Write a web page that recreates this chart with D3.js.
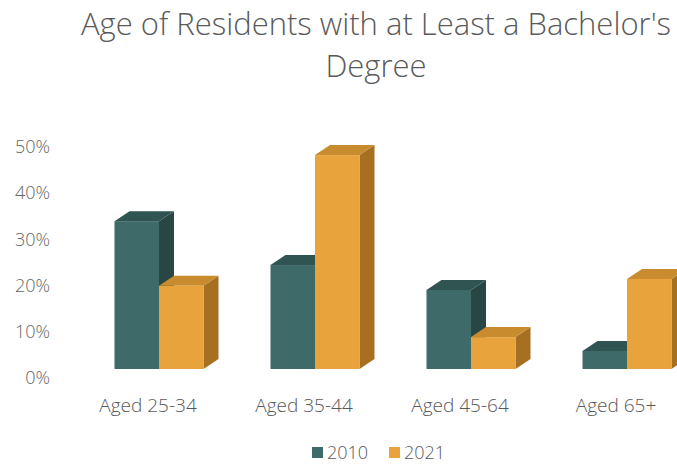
<!DOCTYPE html>
<meta charset="utf-8">
<script src="https://d3js.org/d3.v7.min.js"></script>
<style>
  body { margin: 0; background: #fff; }
  text { font-family: "Open Sans", sans-serif; font-weight: 300; }
</style>
<div id="chart"></div>
<script>

    var categories = ["Aged 25-34", "Aged 35-44", "Aged 45-64", "Aged 65+"];
    var series = ["2010", "2021"];
    var values2010 = [0.32, 0.225, 0.171, 0.039];
    var values2021 = [0.18, 0.463, 0.069, 0.195];
    var yTicks = [0, 0.1, 0.2, 0.3, 0.4, 0.5];

    var width = 677, height = 465;
    var depthX = 15, depthY = 10;

    // front, top, side shades per series
    var shades = {
      "2010": {front: "#3e6b69", top: "#2f5452", side: "#284644"},
      "2021": {front: "#e8a33c", top: "#c88b2e", side: "#a66f22"}
    };

    var svg = d3.select("#chart")
      .append("svg")
        .attr("width", width)
        .attr("height", height);

    svg.append("text")
        .attr("x", 376)
        .attr("y", 35)
        .attr("text-anchor", "middle")
        .style("font-size", "31px")
        .style("fill", "#5a5a5a")
        .text("Age of Residents with at Least a Bachelor's");
    svg.append("text")
        .attr("x", 376)
        .attr("y", 77)
        .attr("text-anchor", "middle")
        .style("font-size", "31px")
        .style("fill", "#5a5a5a")
        .text("Degree");

    var y = d3.scaleLinear()
      .domain([0, 0.5])
      .range([369, 138]);

    var x = d3.scaleBand()
      .domain(categories)
      .range([81, 705]);

    var groupW = 89;
    var xs = d3.scaleBand()
      .domain(series)
      .range([x.step() / 2 - groupW / 2, x.step() / 2 + groupW / 2]);

    // y axis labels sit a little below the bar plane
    var yAxis = svg.append("g")
      .attr("transform", "translate(50,9)")
      .call(d3.axisLeft(y).tickValues(yTicks).tickFormat(d3.format(".0%")).tickSize(0).tickPadding(0));
    yAxis.select(".domain").remove();
    yAxis.selectAll("text")
      .style("font-family", "'Open Sans', sans-serif")
      .style("font-size", "18px")
      .style("fill", "#666");

    var rows = [];
    categories.forEach(function(c, i) {
      rows.push({cat: c, s: "2010", v: values2010[i]});
      rows.push({cat: c, s: "2021", v: values2021[i]});
    });

    var bars = svg.append("g")
      .selectAll("g")
      .data(rows)
      .enter()
      .append("g");

    function face(d, kind) {
      var x0 = x(d.cat) + xs(d.s), x1 = x0 + xs.bandwidth();
      var yt = y(d.v), yb = y(0);
      if (kind == "top")
        return [[x0, yt], [x0 + depthX, yt - depthY], [x1 + depthX, yt - depthY], [x1, yt]];
      return [[x1, yt], [x1 + depthX, yt - depthY], [x1 + depthX, yb - depthY], [x1, yb]];
    }

    bars.append("polygon")
      .attr("points", function(d) { return face(d, "side").join(" "); })
      .style("fill", function(d) { return shades[d.s].side; });
    bars.append("polygon")
      .attr("points", function(d) { return face(d, "top").join(" "); })
      .style("fill", function(d) { return shades[d.s].top; });
    bars.append("rect")
      .attr("x", function(d) { return x(d.cat) + xs(d.s); })
      .attr("y", function(d) { return y(d.v); })
      .attr("width", xs.bandwidth())
      .attr("height", function(d) { return y(0) - y(d.v); })
      .style("fill", function(d) { return shades[d.s].front; });

    svg.append("g")
      .selectAll("text")
      .data(categories)
      .enter()
      .append("text")
        .attr("x", function(d) { return x(d) + x.step() / 2 - 11; })
        .attr("y", 412)
        .attr("text-anchor", "middle")
        .style("font-size", "19px")
        .style("fill", "#595959")
        .text(function(d) { return d; });

    var legend = svg.append("g")
      .selectAll("g")
      .data(series)
      .enter()
      .append("g")
        .attr("transform", function(d, i) { return "translate(" + (312 + i * 77) + ",0)"; });
    legend.append("rect")
      .attr("x", 0)
      .attr("y", 447)
      .attr("width", 11)
      .attr("height", 11)
      .style("fill", function(d) { return shades[d].front; });
    legend.append("text")
      .attr("x", 15)
      .attr("y", 459)
      .style("font-size", "18px")
      .style("fill", "#595959")
      .text(function(d) { return d; });

</script>
